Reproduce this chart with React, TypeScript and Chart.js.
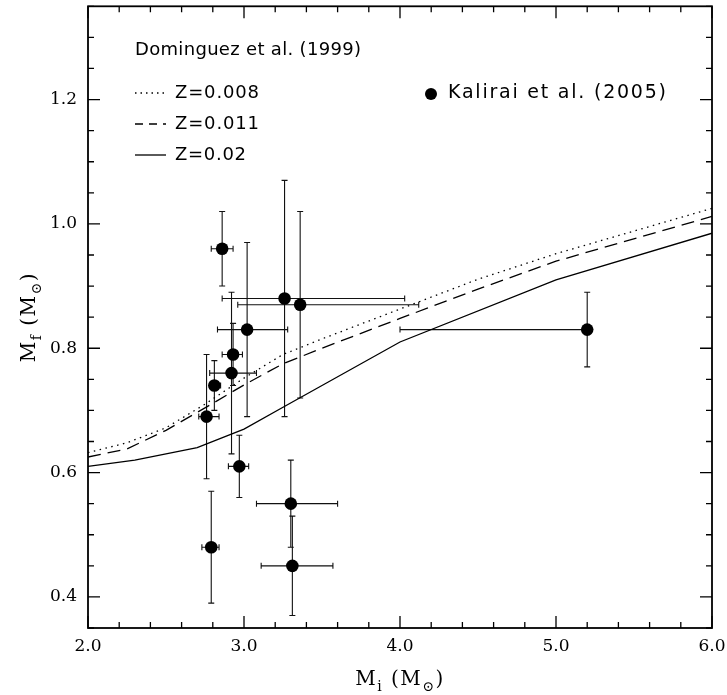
import React, { useEffect, useRef } from 'react';
import { Chart, registerables } from 'chart.js';

Chart.register(...registerables);

// Dominguez et al. (1999) initial-final mass relations
const z008X = [2.0, 2.25, 2.5, 2.75, 3.0, 3.25, 3.5, 4.0, 4.5, 5.0, 6.0];
const z008Y = [0.632, 0.648, 0.672, 0.71, 0.752, 0.79, 0.815, 0.863, 0.911, 0.952, 1.025];
const z011X = [2.0, 2.25, 2.5, 2.75, 3.0, 3.25, 3.5, 4.0, 4.5, 5.0, 6.0];
const z011Y = [0.625, 0.638, 0.668, 0.704, 0.741, 0.775, 0.8, 0.848, 0.895, 0.94, 1.012];
const z02X = [2.0, 2.3, 2.7, 3.0, 3.25, 4.0, 5.0, 6.0];
const z02Y = [0.61, 0.62, 0.64, 0.67, 0.705, 0.81, 0.91, 0.985];

// Kalirai et al. (2005) cluster white dwarfs
const obsMi = [2.86, 3.26, 3.36, 3.02, 2.93, 2.92, 2.81, 2.76, 2.97, 3.3, 3.31, 2.79, 5.2];
const obsMf = [0.96, 0.88, 0.87, 0.83, 0.79, 0.76, 0.74, 0.69, 0.61, 0.55, 0.45, 0.48, 0.83];
const miLo = [2.79, 2.86, 2.96, 2.83, 2.86, 2.78, 2.78, 2.71, 2.9, 3.08, 3.11, 2.73, 4.0];
const miHi = [2.93, 4.03, 4.12, 3.28, 2.99, 3.08, 2.85, 2.84, 3.03, 3.6, 3.57, 2.84, 5.2];
const mfLo = [0.9, 0.69, 0.72, 0.69, 0.74, 0.63, 0.7, 0.59, 0.56, 0.48, 0.37, 0.39, 0.77];
const mfHi = [1.02, 1.07, 1.02, 0.97, 0.84, 0.89, 0.78, 0.79, 0.66, 0.62, 0.53, 0.57, 0.89];

const xTickLabels = ['2.0', '3.0', '4.0', '5.0', '6.0'];
const yTickLabels = ['0.4', '0.6', '0.8', '1.0', '1.2'];

const X_MIN = 2.0, X_MAX = 6.0, Y_MIN = 0.35, Y_MAX = 1.35;

const SERIF = '"DejaVu Serif", serif';
const SANS = '"DejaVu Sans", sans-serif';

type Part = { t: string; sub?: boolean };

function setSpacing(ctx: any, px: number) {
  if ('letterSpacing' in ctx) ctx.letterSpacing = `${px}px`;
}

function fitText(ctx: any, text: string, x: number, y: number, target: number) {
  setSpacing(ctx, 0);
  const w = ctx.measureText(text).width;
  const sp = (target - w) / Math.max(1, text.length - 1);
  setSpacing(ctx, sp);
  ctx.fillText(text, x, y);
  setSpacing(ctx, 0);
}

function drawParts(ctx: any, parts: Part[], x: number, y: number, size: number, family: string, spacing: number) {
  const subSize = size * 0.7;
  setSpacing(ctx, spacing);
  const widths = parts.map((p) => {
    ctx.font = `${p.sub ? subSize : size}px ${family}`;
    return ctx.measureText(p.t).width;
  });
  const total = widths.reduce((a: number, b: number) => a + b, 0);
  let cx = x - total / 2;
  ctx.textAlign = 'left';
  ctx.textBaseline = 'alphabetic';
  parts.forEach((p, i) => {
    ctx.font = `${p.sub ? subSize : size}px ${family}`;
    ctx.fillText(p.t, cx, p.sub ? y + size * 0.3 : y);
    cx += widths[i];
  });
  setSpacing(ctx, 0);
}

const errorBarPlugin = {
  id: 'errorBars',
  beforeDatasetsDraw(chart: any) {
    const { ctx, scales } = chart;
    const xs = scales.x, ys = scales.y;
    ctx.save();
    ctx.strokeStyle = '#111';
    ctx.lineWidth = 1.1;
    const cap = 3;
    for (let i = 0; i < obsMi.length; i++) {
      const px = xs.getPixelForValue(obsMi[i]);
      const py = ys.getPixelForValue(obsMf[i]);
      const xl = xs.getPixelForValue(miLo[i]);
      const xh = xs.getPixelForValue(miHi[i]);
      const yl = ys.getPixelForValue(mfLo[i]);
      const yh = ys.getPixelForValue(mfHi[i]);
      ctx.beginPath();
      ctx.moveTo(xl, py); ctx.lineTo(xh, py);
      if (miLo[i] < obsMi[i]) { ctx.moveTo(xl, py - cap); ctx.lineTo(xl, py + cap); }
      if (miHi[i] > obsMi[i]) { ctx.moveTo(xh, py - cap); ctx.lineTo(xh, py + cap); }
      ctx.moveTo(px, yl); ctx.lineTo(px, yh);
      ctx.moveTo(px - cap, yl); ctx.lineTo(px + cap, yl);
      ctx.moveTo(px - cap, yh); ctx.lineTo(px + cap, yh);
      ctx.stroke();
    }
    ctx.restore();
  },
};

const framePlugin = {
  id: 'frameAndText',
  afterDraw(chart: any) {
    const { ctx, chartArea, scales } = chart;
    const xs = scales.x, ys = scales.y;
    const { left, right, top, bottom } = chartArea;
    ctx.save();
    ctx.strokeStyle = '#000';
    ctx.fillStyle = '#000';
    ctx.lineWidth = 1.8;
    ctx.strokeRect(left, top, right - left, bottom - top);

    // ticks
    ctx.lineWidth = 1.3;
    ctx.beginPath();
    for (let k = 0; k <= 20; k++) {
      const v = X_MIN + k * 0.2;
      const len = k % 5 === 0 ? 12 : 6;
      const p = xs.getPixelForValue(v);
      ctx.moveTo(p, bottom); ctx.lineTo(p, bottom - len);
      ctx.moveTo(p, top); ctx.lineTo(p, top + len);
    }
    for (let k = 0; k <= 20; k++) {
      const v = Y_MIN + k * 0.05;
      const len = (k - 1) % 4 === 0 ? 12 : 6;
      const p = ys.getPixelForValue(v);
      ctx.moveTo(left, p); ctx.lineTo(left + len, p);
      ctx.moveTo(right, p); ctx.lineTo(right - len, p);
    }
    ctx.stroke();

    // tick labels
    ctx.font = `17px ${SERIF}`;
    ctx.textAlign = 'center';
    ctx.textBaseline = 'middle';
    xTickLabels.forEach((lab) => {
      ctx.fillText(lab, xs.getPixelForValue(parseFloat(lab)), bottom + 19);
    });
    ctx.textAlign = 'right';
    yTickLabels.forEach((lab) => {
      ctx.fillText(lab, left - 11, ys.getPixelForValue(parseFloat(lab)));
    });

    // axis titles
    drawParts(ctx, [{ t: 'M' }, { t: 'i', sub: true }, { t: ' (M' }, { t: '\u2299', sub: true }, { t: ')' }], (left + right) / 2, 685, 20, SERIF, 1.5);
    ctx.save();
    ctx.translate(35, (top + bottom) / 2);
    ctx.rotate(-Math.PI / 2);
    drawParts(ctx, [{ t: 'M' }, { t: 'f', sub: true }, { t: ' (M' }, { t: '\u2299', sub: true }, { t: ')' }], 0, 0, 20, SERIF, 1.5);
    ctx.restore();

    // legend
    ctx.font = `18px ${SANS}`;
    ctx.textAlign = 'left';
    ctx.textBaseline = 'middle';
    fitText(ctx, 'Dominguez et al. (1999)', 135, 50, 226);
    const rows = [
      { label: 'Z=0.008', y: 93, dash: [1.5, 4], w: 84 },
      { label: 'Z=0.011', y: 124, dash: [8, 6], w: 84 },
      { label: 'Z=0.02', y: 155, dash: [] as number[], w: 71 },
    ];
    rows.forEach((r) => {
      ctx.beginPath();
      ctx.setLineDash(r.dash);
      ctx.lineWidth = 1.3;
      ctx.moveTo(135, r.y);
      ctx.lineTo(166, r.y);
      ctx.stroke();
      ctx.setLineDash([]);
      fitText(ctx, r.label, 175, r.y, r.w);
    });
    ctx.beginPath();
    ctx.arc(431, 94, 6, 0, Math.PI * 2);
    ctx.fill();
    ctx.font = `19px ${SANS}`;
    fitText(ctx, 'Kalirai et al. (2005)', 448, 93, 218);
    ctx.restore();
  },
};

function toXY(xs: number[], ys: number[]) {
  return xs.map((x, i) => ({ x, y: ys[i] }));
}

export default function App() {
  const ref = useRef<HTMLCanvasElement | null>(null);
  useEffect(() => {
    if (!ref.current) return;
    const lineDs = (data: any, dash: number[]) => ({
      type: 'line' as const,
      data,
      showLine: true,
      borderColor: '#000',
      borderWidth: 1.3,
      borderDash: dash,
      pointRadius: 0,
      fill: false,
      tension: 0,
    });
    const chart = new Chart(ref.current, {
      type: 'scatter',
      data: {
        datasets: [
          lineDs(toXY(z008X, z008Y), [1.5, 4.5]) as any,
          lineDs(toXY(z011X, z011Y), [13, 7]) as any,
          lineDs(toXY(z02X, z02Y), []) as any,
          {
            type: 'scatter',
            data: toXY(obsMi, obsMf),
            pointRadius: 6.3,
            pointBackgroundColor: '#000',
            pointBorderColor: '#000',
            pointBorderWidth: 0,
          } as any,
        ],
      },
      options: {
        animation: false,
        responsive: false,
        devicePixelRatio: 1,
        layout: { padding: { left: 88, right: 15, top: 4, bottom: 67 } },
        scales: {
          x: { type: 'linear', min: X_MIN, max: X_MAX, display: false },
          y: { type: 'linear', min: Y_MIN, max: Y_MAX, display: false },
        },
        plugins: { legend: { display: false }, tooltip: { enabled: false } },
        events: [],
      },
      plugins: [errorBarPlugin, framePlugin],
    });
    return () => chart.destroy();
  }, []);
  return (
    <div style={{ position: 'absolute', left: 0, top: 0, width: 727, height: 695, background: '#fff' }}>
      <canvas ref={ref} width={727} height={695} />
    </div>
  );
}
